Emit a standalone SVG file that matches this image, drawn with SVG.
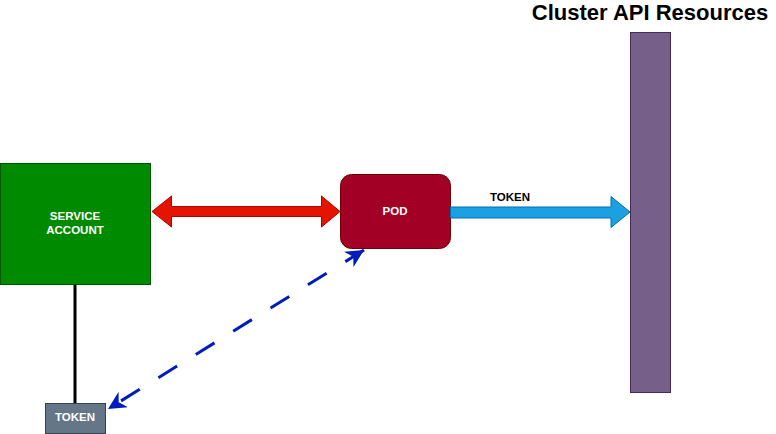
<svg xmlns="http://www.w3.org/2000/svg" width="776" height="434" viewBox="0 0 776 434">
<style>
text{font-family:"Liberation Sans",Arial,sans-serif;font-weight:bold;text-anchor:middle}
.w{fill:#ffffff;font-size:11.5px}
.k{fill:#000000;font-size:11.5px}
</style>
<defs>
<marker id="ah" viewBox="0 0 10 10" refX="10" refY="5" markerWidth="6" markerHeight="6" orient="auto-start-reverse" markerUnits="strokeWidth">
<path d="M0,0 L10,5 L0,10 L3,5 z" fill="#001dbc"/>
</marker>
</defs>
<rect width="776" height="434" fill="#ffffff"/>
<g id="title"><text x="650" y="20" style="font-size:22px;fill:#000">Cluster API Resources</text></g>
<g id="cluster-api"><rect x="630.5" y="32.5" width="40" height="360" fill="#76608a" stroke="#432d57"/></g>
<g id="service-account">
<rect x="0.5" y="163.5" width="150" height="121" fill="#008a00" stroke="#005700"/>
<text class="w" x="75" y="220">SERVICE</text>
<text class="w" x="75" y="234">ACCOUNT</text>
</g>
<g id="pod">
<rect x="340.5" y="174.5" width="110" height="74" rx="11" fill="#a20025" stroke="#6f0000"/>
<text class="w" x="395" y="215">POD</text>
</g>
<g id="token-box">
<rect x="45.5" y="403.5" width="60" height="30" fill="#647687" stroke="#314354"/>
<text class="w" x="75" y="421">TOKEN</text>
</g>
<g id="connectors">
<path d="M152,211.5 L171.5,196 L171.5,206.5 L321.5,206.5 L321.5,196 L340,211.5 L321.5,227 L321.5,216.5 L171.5,216.5 L171.5,227 Z" fill="#e51400" stroke="#b20000"/>
<path d="M450.5,207 L611,207 L611,196.5 L630,212 L611,227.5 L611,218 L450.5,218 Z" fill="#1ba1e2" stroke="#006eaf"/>
<text class="k" x="510" y="201">TOKEN</text>
<line x1="75" y1="285" x2="75" y2="403" stroke="#000000" stroke-width="3"/>
<line x1="364" y1="250" x2="108" y2="409" stroke="#001dbc" stroke-width="3" stroke-dasharray="22 22" marker-start="url(#ah)" marker-end="url(#ah)"/>
</g>
</svg>
